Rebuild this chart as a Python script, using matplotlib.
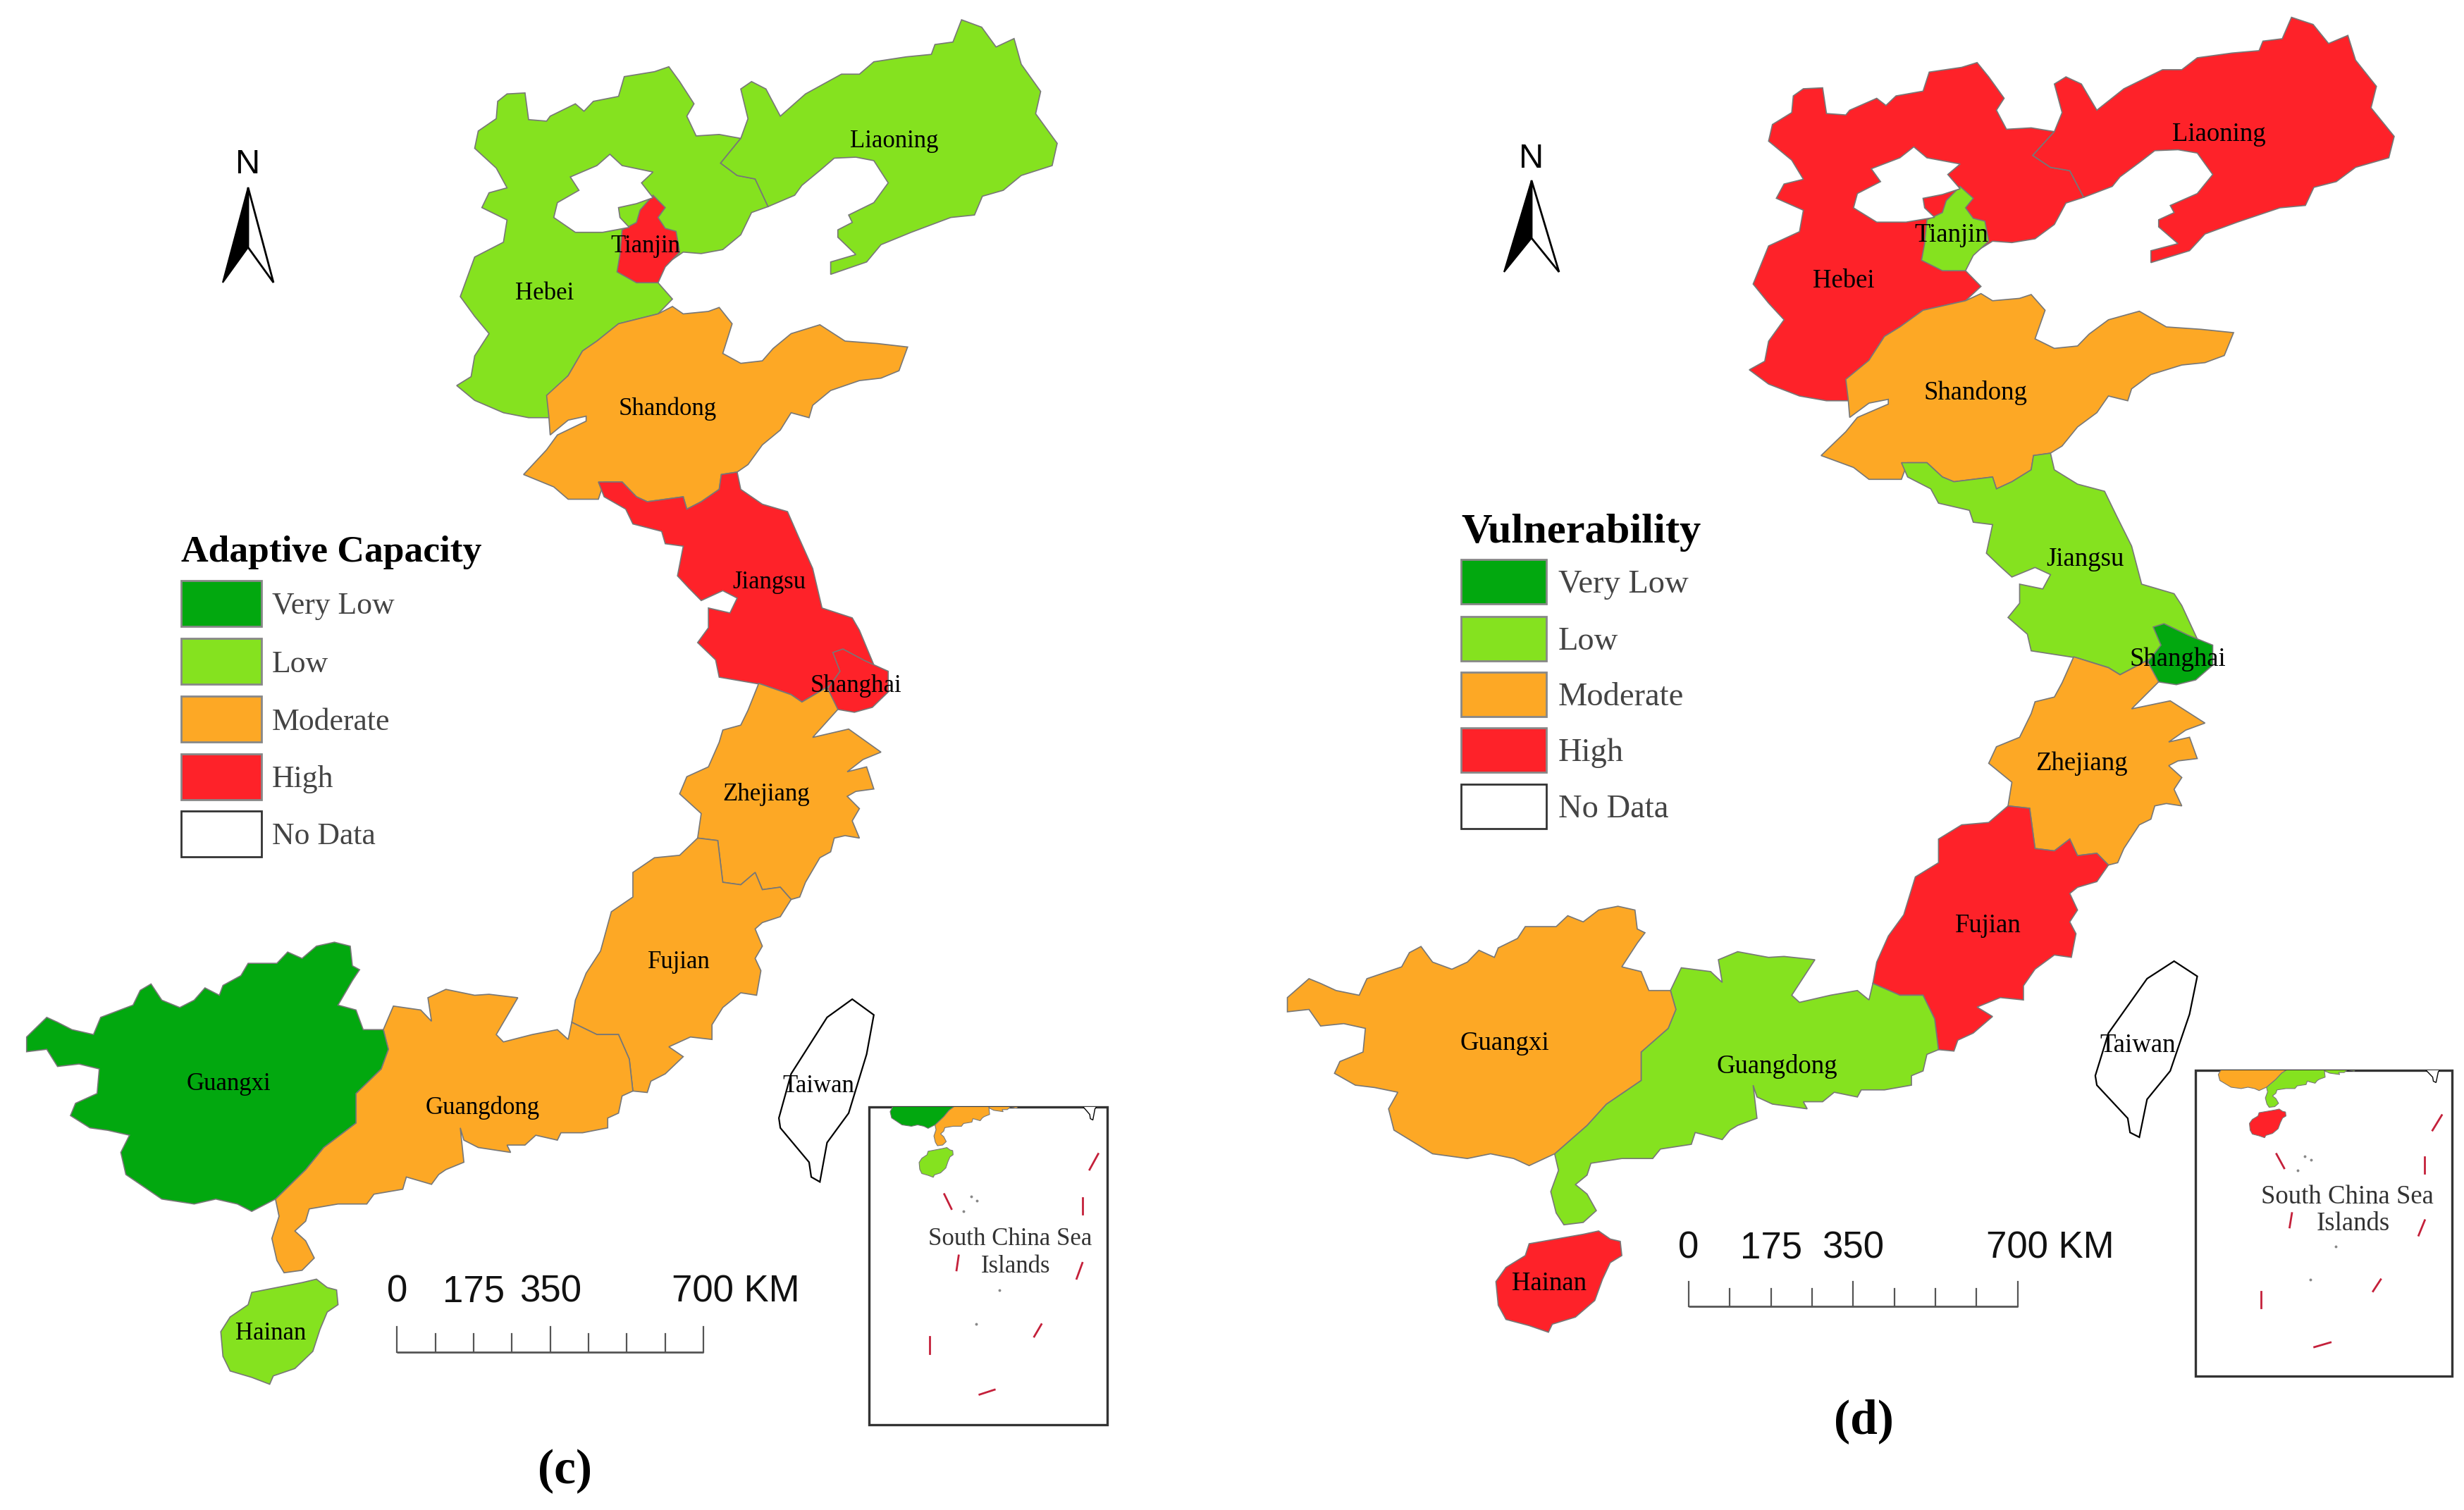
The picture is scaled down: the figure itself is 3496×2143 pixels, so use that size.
import matplotlib
matplotlib.use("Agg")
import matplotlib.pyplot as plt
import matplotlib.patheffects as pe
from matplotlib.patches import Polygon, Rectangle

W, H = 3496, 2143
SX, SY1, SY2, OY2 = 0.98, 1.4255, 1.4346, 1050

# ---------- map outlines ----------
hebei_n = [(665,265),(690,240),(692,205),(705,190),(730,188),(735,242),(760,245),(765,235),(800,210),(812,225),(825,205),(860,195),(868,155),(910,145),(930,135),(945,165),(965,210),(955,235),(968,275),(1000,272),(1030,280),(1002,330),(1025,355),(1050,362),(1068,418),(1045,430),(1030,475),(1005,505),(975,513),(950,510),(920,540),(915,572),(935,605),(915,635),(860,655),(830,690),(810,710),(790,760),(765,800),(775,825),(765,845),(735,845),(700,835),(660,810),(635,780),(655,762),(660,720),(680,675),(660,640),(640,600),(650,560),(660,520),(700,490),(705,445),(670,420),(680,390),(705,380),(690,340),(660,300)]
beijing_n = [(848,312),(865,335),(908,348),(892,370),(908,400),(885,412),(860,420),(862,440),(875,460),(838,470),(800,470),(770,440),(775,410),(805,385),(793,358),(830,335)]
tianjin_n = [(908,395),(925,420),(915,440),(925,462),(940,468),(945,510),(925,540),(915,572),(885,572),(858,550),(862,515),(865,465),(885,450),(890,425)]
liaoning_n = [(1030,180),(1045,165),(1065,180),(1085,235),(1120,190),(1170,150),(1195,150),(1215,125),(1260,115),(1295,110),(1300,90),(1325,85),(1337,40),(1365,55),(1385,95),(1410,78),(1420,130),(1447,185),(1440,230),(1470,290),(1463,335),(1420,355),(1395,385),(1366,397),(1355,435),(1322,440),(1267,470),(1225,495),(1205,530),(1155,555),(1155,530),(1190,515),(1165,480),(1165,465),(1185,450),(1180,435),(1215,410),(1235,370),(1215,325),(1190,318),(1160,320),(1140,345),(1115,375),(1105,395),(1068,418),(1050,362),(1025,355),(1002,330),(1030,280),(1040,240)]
shandong_n = [(935,620),(950,635),(985,630),(1000,622),(1018,655),(1005,715),(1030,735),(1060,730),(1075,705),(1100,675),(1140,657),(1175,690),(1220,695),(1262,702),(1250,750),(1225,765),(1195,770),(1155,790),(1130,820),(1125,845),(1100,835),(1085,870),(1060,900),(1040,940),(1025,955),(1003,960),(1000,990),(975,1015),(955,1030),(950,1005),(925,1010),(900,1015),(885,1005),(865,975),(840,975),(832,1010),(790,1010),(770,985),(728,960),(760,910),(775,880),(815,852),(815,842),(790,850),(765,880),(763,840),(760,800),(790,760),(810,710),(830,690),(860,655),(915,635)]
jiangsu_n = [(1025,955),(1030,990),(1060,1020),(1095,1035),(1110,1085),(1130,1150),(1143,1230),(1185,1250),(1195,1275),(1205,1310),(1215,1345),(1150,1390),(1115,1420),(1100,1405),(1060,1385),(1000,1370),(995,1335),(970,1300),(985,1270),(985,1230),(1015,1240),(1025,1210),(1005,1195),(975,1215),(958,1190),(942,1165),(950,1105),(925,1100),(920,1075),(880,1060),(870,1030),(840,1005),(832,975),(865,975),(885,1005),(900,1015),(925,1010),(950,1005),(955,1030),(975,1015),(1000,990),(1003,960)]
shanghai_n = [(1158,1320),(1172,1313),(1203,1337),(1235,1358),(1235,1400),(1213,1431),(1188,1441),(1148,1431),(1150,1395),(1168,1358)]
zhejiang_s = [(1055,-115),(1100,-92),(1115,-77),(1150,-107),(1165,-62),(1130,-5),(1180,-22),(1225,25),(1200,40),(1178,65),(1205,55),(1215,100),(1190,105),(1178,115),(1195,140),(1185,165),(1195,200),(1175,195),(1160,200),(1155,228),(1140,240),(1120,290),(1112,320),(1100,325),(1085,300),(1060,305),(1050,270),(1030,295),(1005,290),(998,205),(970,200),(975,150),(945,110),(955,75),(985,55),(1000,5),(1005,-20),(1030,-30),(1040,-60)]
fujian_s = [(998,205),(1005,290),(1030,295),(1050,270),(1060,305),(1085,300),(1100,325),(1085,360),(1060,372),(1050,385),(1060,420),(1050,445),(1058,470),(1052,520),(1030,515),(1005,545),(990,580),(990,610),(960,605),(930,625),(950,645),(925,680),(905,695),(900,718),(880,715),(875,650),(860,600),(830,600),(795,575),(800,530),(815,475),(835,430),(850,350),(880,320),(880,270),(910,240),(945,235),(970,200)]
guangdong_s = [(795,575),(830,600),(860,600),(875,650),(880,715),(865,725),(860,760),(845,770),(845,790),(810,800),(780,800),(775,815),(745,805),(730,825),(705,825),(710,840),(665,830),(645,815),(640,790),(645,860),(620,875),(610,885),(600,905),(565,890),(560,915),(520,925),(510,945),(470,945),(430,955),(425,980),(410,1000),(425,1020),(437,1055),(420,1080),(395,1085),(385,1060),(378,1015),(388,970),(383,935),(425,875),(450,830),(495,780),(495,720),(530,670),(540,630),(533,590),(547,542),(585,550),(600,573),(595,525),(620,508),(660,520),(680,518),(720,525),(690,600),(700,615),(740,600),(775,590),(790,610)]
guangxi_s = [(37,605),(65,565),(80,575),(100,590),(130,600),(140,565),(185,540),(195,510),(210,497),(225,530),(250,545),(270,530),(285,505),(305,520),(310,500),(335,480),(345,455),(385,455),(400,432),(420,445),(440,420),(465,412),(487,420),(490,460),(500,468),(490,490),(470,540),(495,550),(505,590),(533,590),(540,630),(530,670),(495,720),(495,780),(450,830),(425,875),(383,935),(350,960),(330,945),(300,935),(270,945),(225,935),(195,905),(175,885),(168,840),(180,805),(150,795),(125,790),(98,765),(105,740),(135,720),(138,670),(110,660),(80,665),(65,630),(37,635)]
hainan_s = [(440,1098),(455,1115),(468,1120),(470,1150),(455,1165),(445,1200),(435,1245),(410,1280),(380,1295),(375,1312),(350,1298),(320,1285),(310,1255),(307,1205),(320,1175),(345,1150),(350,1125),(385,1115),(420,1105)]
taiwan_s = [(1185,528),(1215,560),(1205,640),(1180,760),(1150,820),(1140,900),(1128,890),(1125,860),(1085,790),(1083,770),(1100,680),(1150,565)]
dashes_s = [[(1527,843),(1515,875)],[(1313,925),(1323,955)],[(1505,932),(1505,965)],[(1333,1050),(1330,1080)],[(1505,1065),(1497,1097)],[(1448,1190),(1438,1215)],[(1293,1215),(1293,1250)],[(1383,1323),(1362,1333)]]
dots_s = [(1350,930),(1358,938),(1340,960),(1390,1120),(1357,1190)]

provinces = ["Hebei","Liaoning","Shandong","Jiangsu","Shanghai","Zhejiang","Fujian","Guangdong","Guangxi","Hainan","Tianjin"]
levels_names = ["Very Low","Low","Moderate","High","No Data"]
level_colors = ["#02A80F","#85E21F","#FDA825","#FE2229","#FFFFFF"]
adaptive_levels = [1,1,2,3,3,2,2,2,0,1,3]
vulner_levels = [3,3,2,1,0,2,3,1,2,3,1]
label_pos_n = {"Liaoning":(1243,280),"Tianjin":(897,492),"Hebei":(757,588),"Shandong":(928,822),"Jiangsu":(1070,1172),"Shanghai":(1190,1382)}
label_pos_s = {"Zhejiang":(1065,105),"Fujian":(944,447),"Guangxi":(318,695),"Guangdong":(671,744),"Hainan":(376,1203),"Taiwan":(1138,700)}
scale_ticks_km = [0,87.5,175,262.5,350,437.5,525,612.5,700]
scale_labels = ["0","175","350"]


def n2r(p):
    return [(x/SX, y/SY1) for x, y in p]


def s2r(p):
    return [(x/SX, OY2+y/SY2) for x, y in p]


outlines = {
    "Hebei": n2r(hebei_n), "Liaoning": n2r(liaoning_n), "Shandong": n2r(shandong_n),
    "Jiangsu": n2r(jiangsu_n), "Shanghai": n2r(shanghai_n), "Zhejiang": s2r(zhejiang_s),
    "Fujian": s2r(fujian_s), "Guangdong": s2r(guangdong_s), "Guangxi": s2r(guangxi_s),
    "Hainan": s2r(hainan_s), "Tianjin": n2r(tianjin_n),
}

fig = plt.figure(figsize=(W/100, H/100), dpi=100, facecolor="white")
ax = fig.add_axes([0, 0, 1, 1])
ax.set_xlim(0, W)
ax.set_ylim(H, 0)
ax.axis("off")
SERIF = "Liberation Serif"
SANS = "Liberation Sans"
DY = 4


def draw_panel(tf, off, levels, title, legend_x, legend_tops, legend_h, legend_w, title_y, text_x,
               north_x, north_y, arrow_top, arrow_bot, arrow_half, caption, cap_xy, fs_label, fs_legend, fs_title):
    def T(p, extra=False):
        ox, oy = off if extra else (0, 0)
        return [(tf[0]*x+tf[1]+ox, tf[2]*y+tf[3]+oy) for x, y in p]

    def inset(p):
        return [(1304+(x-313)*0.29, 1628.6+(y-1815.4)*0.283) for x, y in p]

    # provinces
    for name, lv in zip(provinces, levels):
        ax.add_patch(Polygon(T(outlines[name]), closed=True, facecolor=level_colors[lv],
                             edgecolor="#777777", lw=1.2, zorder=2))
    ax.add_patch(Polygon(T(n2r(beijing_n)), closed=True, facecolor="white", edgecolor="#777777", lw=1.2, zorder=2))
    ax.add_patch(Polygon(T(s2r(taiwan_s)), closed=True, facecolor="white", edgecolor="black", lw=1.6, zorder=2))
    # province labels
    for d, conv in ((label_pos_n, n2r), (label_pos_s, s2r)):
        for name, xy in d.items():
            (x, y), = T(conv([xy]))
            ax.text(x, y+DY, name, family=SERIF, fontsize=fs_label, ha="center", va="center", color="black", zorder=5)
    # legend
    ax.text(legend_x, title_y+DY, title, family=SERIF, fontsize=fs_title, weight="bold",
            ha="left", va="center", color="black", zorder=5)
    for top, nm, col in zip(legend_tops, levels_names, level_colors):
        ax.add_patch(Rectangle((legend_x, top), legend_w, legend_h, facecolor=col,
                               edgecolor="#333333" if nm == "No Data" else "#888888", lw=2, zorder=3))
        ax.text(text_x, top+legend_h/2+DY, nm, family=SERIF, fontsize=fs_legend, ha="left", va="center", color="#444444", zorder=5)
    # north arrow
    ax.text(north_x, north_y+DY, "N", family=SANS, fontsize=35, ha="center", va="center", color="black", zorder=5)
    notch = arrow_top+(arrow_bot-arrow_top)*0.63
    ax.add_patch(Polygon([(north_x, arrow_top), (north_x+arrow_half, arrow_bot), (north_x, notch)],
                         closed=True, facecolor="white", edgecolor="black", lw=2, zorder=4))
    ax.add_patch(Polygon([(north_x, arrow_top), (north_x-arrow_half, arrow_bot), (north_x, notch)],
                         closed=True, facecolor="black", edgecolor="black", lw=1.5, zorder=4))
    # scale bar
    (x0, y_base), = T(s2r([(552, 1247)]), True)
    (x1, y_tall), = T(s2r([(978, 1195)]), True)
    (_, y_short), = T(s2r([(552, 1210)]), True)
    (_, y_txt), = T(s2r([(552, 1118)]), True)
    y_txt += DY
    pos = [x0+(x1-x0)*k/scale_ticks_km[-1] for k in scale_ticks_km]
    ax.plot([x0, x1], [y_base, y_base], color="#555555", lw=2, zorder=4, solid_capstyle="butt")
    for i, p in enumerate(pos):
        ax.plot([p, p], [y_base, y_tall if i % 4 == 0 else y_short], color="#555555", lw=1.6, zorder=4)
    for k, lab in zip((0, 2, 4), scale_labels):
        ax.text(pos[k], y_txt, lab, family=SANS, fontsize=38, ha="center", va="center", color="#111111", zorder=5)
    ax.text(pos[8]-45, y_txt, "700 KM", family=SANS, fontsize=38, ha="left", va="center", color="#111111", zorder=5)
    # inset
    (bx0, by0), (bx1, by1) = T(s2r([(1208, 748), (1540, 1395)]), True)
    box = Rectangle((bx0, by0), bx1-bx0, by1-by0, facecolor="white", edgecolor="#333333", lw=2.4, zorder=6)
    ax.add_patch(box)
    clip = Rectangle((bx0, by0), bx1-bx0, by1-by0, transform=ax.transData)
    for name, lv in zip(provinces, levels):
        pg = Polygon(T(inset(outlines[name]), True), closed=True, facecolor=level_colors[lv],
                     edgecolor="#777777", lw=0.8, zorder=7)
        ax.add_patch(pg)
        pg.set_clip_path(clip)
    tw = Polygon(T(inset(s2r(taiwan_s)), True), closed=True, facecolor="white", edgecolor="black", lw=1, zorder=7)
    ax.add_patch(tw)
    tw.set_clip_path(clip)
    for seg in dashes_s:
        xs, ys = zip(*T(s2r(seg), True))
        ax.plot(xs, ys, color="#C4203A", lw=2, zorder=8)
    xs, ys = zip(*T(s2r(dots_s), True))
    ax.plot(xs, ys, ls="none", marker="o", ms=1.8, color="#888888", zorder=8)
    for xy, s in (((1405, 1010), "South China Sea"), ((1412, 1067), "Islands")):
        (x, y), = T(s2r([xy]), True)
        ax.text(x, y+DY, s, family=SERIF, fontsize=fs_label, ha="center", va="center", color="#333333", zorder=9)
    # caption
    ax.text(cap_xy[0], cap_xy[1]+2, caption, family=SERIF, fontsize=50, weight="bold", ha="center", va="center", color="black", zorder=5)


draw_panel((1, 0, 1, 0), (0, 0), adaptive_levels, "Adaptive Capacity", 257, [824, 906, 988, 1070, 1151], 65, 114, 780, 386,
           352, 230, 266, 401, 36, "(c)", (801, 2086), 25, 31.5, 38.5)
draw_panel((1.074, 1786, 0.9637, -2.5), (5, 7), vulner_levels, "Vulnerability", 2073, [794, 875, 954, 1033, 1113], 63, 121, 752, 2211,
           2173, 221, 256, 386, 39, "(d)", (2644, 2015), 26.5, 33.5, 43.5)

fig.savefig("out.png", dpi=100, facecolor="white")
